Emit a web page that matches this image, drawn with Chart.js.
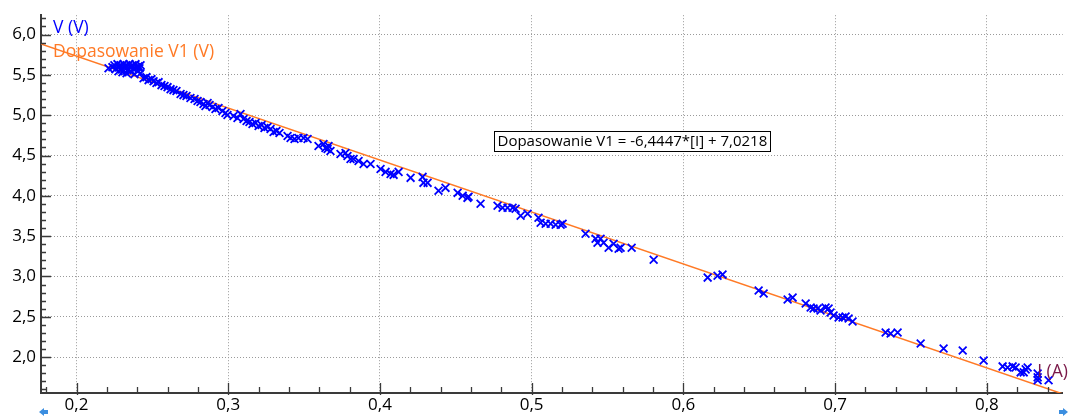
<!DOCTYPE html>
<html>
<head>
<meta charset="utf-8">
<title>V(I) - dopasowanie</title>
<script src="https://cdn.jsdelivr.net/npm/chart.js@4.4.1/dist/chart.umd.min.js"></script>
<style>
    html, body { margin: 0; padding: 0; background: #fff; }
    #wrap { width: 1070px; height: 419px; }
</style>
</head>
<body>
<div id="wrap"><canvas id="fitChart" width="1070" height="419"></canvas></div>
<script>
// measured points: current I (A) and voltage V (V)
const currentA = [
    0.2211, 0.2237, 0.2250, 0.2257, 0.2270, 0.2277, 0.2290, 0.2297, 0.2310, 0.2316,
    0.2330, 0.2336, 0.2349, 0.2356, 0.2369, 0.2376, 0.2389, 0.2396, 0.2409, 0.2422,
    0.2277, 0.2303, 0.2330, 0.2356, 0.2382, 0.2402, 0.2422, 0.2415,
    0.2442, 0.2461, 0.2475, 0.2494, 0.2508, 0.2527, 0.2541, 0.2560, 0.2580, 0.2600,
    0.2620, 0.2639, 0.2659, 0.2686, 0.2705, 0.2725, 0.2751, 0.2778, 0.2798,
    0.2817, 0.2837, 0.2850, 0.2864, 0.2877, 0.2897, 0.2916, 0.2936, 0.2962, 0.2982, 0.2995,
    0.3035, 0.3061, 0.3081, 0.3101, 0.3121, 0.3140, 0.3160, 0.3180, 0.3200, 0.3220,
    0.3239, 0.3259, 0.3279, 0.3299, 0.3318, 0.3338,
    0.3391, 0.3411, 0.3437, 0.3463, 0.3496, 0.3523,
    0.3595, 0.3628, 0.3641, 0.3661, 0.3674, 0.3655,
    0.3740, 0.3773, 0.3786, 0.3806, 0.3826, 0.3859, 0.3892, 0.3938,
    0.4004, 0.4037, 0.4070, 0.4090, 0.4123, 0.4202, 0.4281, 0.4287, 0.4314,
    0.4386, 0.4432, 0.4512, 0.4545, 0.4577, 0.4584, 0.4663,
    0.4775, 0.4808, 0.4841, 0.4874, 0.4894, 0.4927, 0.4973,
    0.5045, 0.5059, 0.5092, 0.5125, 0.5158, 0.5191, 0.5204,
    0.5355, 0.5421, 0.5434, 0.5454, 0.5474, 0.5507, 0.5540, 0.5573, 0.5586, 0.5659,
    0.5804, 0.6160, 0.6225, 0.6258, 0.6496, 0.6529, 0.6687, 0.6720,
    0.6806, 0.6839, 0.6858, 0.6885, 0.6904, 0.6937, 0.6957, 0.6970,
    0.6990, 0.7023, 0.7049, 0.7069, 0.7089, 0.7115,
    0.7333, 0.7366, 0.7412, 0.7564, 0.7715, 0.7841, 0.7979,
    0.8104, 0.8137, 0.8170, 0.8190, 0.8223, 0.8243, 0.8256, 0.8269,
    0.8335, 0.8335, 0.8335, 0.8407
];
const voltageV = [
    5.583, 5.596, 5.620, 5.571, 5.633, 5.596, 5.620, 5.571, 5.633, 5.596,
    5.620, 5.558, 5.633, 5.596, 5.620, 5.571, 5.633, 5.596, 5.608, 5.620,
    5.546, 5.534, 5.521, 5.546, 5.509, 5.546, 5.521, 5.583,
    5.459, 5.472, 5.435, 5.447, 5.422, 5.398, 5.410, 5.373, 5.361, 5.348,
    5.323, 5.311, 5.299, 5.262, 5.249, 5.237, 5.212, 5.200, 5.175,
    5.163, 5.138, 5.113, 5.150, 5.126, 5.101, 5.076, 5.088, 5.051, 5.027, 5.002,
    4.989, 4.965, 5.014, 4.952, 4.928, 4.915, 4.891, 4.903, 4.866, 4.878,
    4.841, 4.853, 4.829, 4.792, 4.804, 4.779,
    4.742, 4.717, 4.705, 4.717, 4.717, 4.705,
    4.618, 4.643, 4.594, 4.618, 4.557, 4.581,
    4.519, 4.532, 4.495, 4.458, 4.458, 4.433, 4.396, 4.396,
    4.334, 4.297, 4.272, 4.260, 4.297, 4.223, 4.235, 4.161, 4.161,
    4.062, 4.099, 4.037, 4.000, 3.975, 3.988, 3.901,
    3.876, 3.852, 3.852, 3.852, 3.839, 3.753, 3.777,
    3.728, 3.666, 3.654, 3.654, 3.641, 3.641, 3.654,
    3.530, 3.468, 3.419, 3.468, 3.419, 3.357, 3.406, 3.344, 3.357, 3.357,
    3.208, 2.986, 3.010, 3.023, 2.825, 2.788, 2.714, 2.738,
    2.664, 2.615, 2.602, 2.602, 2.577, 2.615, 2.602, 2.553,
    2.516, 2.491, 2.491, 2.503, 2.479, 2.441,
    2.305, 2.293, 2.305, 2.169, 2.107, 2.083, 1.959,
    1.885, 1.872, 1.885, 1.872, 1.811, 1.811, 1.848, 1.872,
    1.798, 1.749, 1.712, 1.712
];

// fitted line V1 = -6,4447*[I] + 7,0218, end points at the plot edges
const fitX = [0.1766, 0.8500];
const fitY = [5.884, 1.544];

const xTicks = [0.2, 0.3, 0.4, 0.5, 0.6, 0.7, 0.8];
const yTicks = [2.0, 2.5, 3.0, 3.5, 4.0, 4.5, 5.0, 5.5, 6.0];

const fitText = 'Dopasowanie V1 = -6,4447*[I] + 7,0218';

const BLUE = '#0000ff';
const ORANGE = '#ff7a26';
const AXIS = '#3a3a3a';
const FONT = "'Open Sans', 'Noto Sans', sans-serif";

const comma = v => v.toFixed(1).replace('.', ',');

Chart.defaults.font.family = FONT;

// minor/major ticks, axis captions, fit equation box, scroll arrows
const decorPlugin = {
    id: 'decor',
    afterDraw(chart) {
        const ctx = chart.ctx;
        const area = chart.chartArea;
        const xs = chart.scales.x;
        const ys = chart.scales.y;
        ctx.save();
        ctx.strokeStyle = AXIS;
        ctx.lineWidth = 1.3;
        ctx.beginPath();
        for (let k = 9; k <= 42; k++) {
            const px = Math.round(xs.getPixelForValue(k * 0.02)) + 0.5;
            if (px < area.left + 2 || px > area.right) continue;
            const major = k % 5 === 0;
            ctx.moveTo(px, area.bottom - (major ? 10 : 6));
            ctx.lineTo(px, area.bottom + (major ? 2 : 0));
        }
        for (let k = 16; k <= 62; k++) {
            const py = Math.round(ys.getPixelForValue(k / 10)) + 0.5;
            if (py > area.bottom || py < area.top) continue;
            const major = k % 5 === 0;
            ctx.moveTo(area.left - (major ? 1 : 0), py);
            ctx.lineTo(area.left + (major ? 10 : 5), py);
        }
        ctx.stroke();

        // series captions
        ctx.font = '17.5px ' + FONT;
        ctx.textBaseline = 'middle';
        ctx.textAlign = 'left';
        ctx.fillStyle = BLUE;
        ctx.fillText('V (V)', 53, 28);
        ctx.fillStyle = ORANGE;
        ctx.fillText('Dopasowanie V1 (V)', 53, 52);
        ctx.fillStyle = '#7a1848';
        ctx.font = '17.5px ' + FONT;
        ctx.textAlign = 'right';
        ctx.fillText('I (A)', 1068, 372);

        // equation box
        ctx.font = '15px ' + FONT;
        ctx.textAlign = 'left';
        const bx = Math.round(xs.getPixelForValue(0.4749)) + 0.5;
        const by = Math.round(ys.getPixelForValue(4.804)) + 0.5;
        const bw = Math.round(ctx.measureText(fitText).width) + 6;
        ctx.fillStyle = '#fff';
        ctx.fillRect(bx, by, bw, 20);
        ctx.strokeStyle = '#000';
        ctx.lineWidth = 1;
        ctx.strokeRect(bx, by, bw, 20);
        ctx.fillStyle = '#000';
        ctx.fillText(fitText, bx + 3, by + 10.5);

        // small scroll arrows under the axis
        const arrow = (x, y, dir) => {
            ctx.fillStyle = '#3b8ee0';
            ctx.beginPath();
            ctx.moveTo(x - 5 * dir, y);
            ctx.lineTo(x, y - 4);
            ctx.lineTo(x, y - 2);
            ctx.lineTo(x + 4 * dir, y - 2);
            ctx.lineTo(x + 4 * dir, y + 2);
            ctx.lineTo(x, y + 2);
            ctx.lineTo(x, y + 4);
            ctx.closePath();
            ctx.fill();
        };
        arrow(44, 412, 1);
        arrow(1063, 412, -1);
        ctx.restore();
    }
};

const ctx = document.getElementById('fitChart').getContext('2d');
const fitChart = new Chart(ctx, {
    type: 'scatter',
    data: {
        datasets: [
            {
                label: 'Dopasowanie V1 (V)',
                type: 'line',
                data: fitX.map((x, i) => ({ x: x, y: fitY[i] })),
                borderColor: ORANGE,
                borderWidth: 1.5,
                pointRadius: 0,
                fill: false,
                order: 2
            },
            {
                label: 'V (V)',
                data: currentA.map((x, i) => ({ x: x, y: voltageV[i] })),
                pointStyle: 'crossRot',
                pointRadius: 5.5,
                borderColor: BLUE,
                backgroundColor: BLUE,
                pointBorderWidth: 1.8,
                order: 1
            }
        ]
    },
    options: {
        responsive: false,
        animation: false,
        layout: { padding: { top: 14, right: 7, left: 0, bottom: 0 } },
        plugins: {
            legend: { display: false },
            tooltip: { enabled: false }
        },
        scales: {
            x: {
                type: 'linear',
                min: 0.1766,
                max: 0.85,
                afterBuildTicks: scale => { scale.ticks = xTicks.map(v => ({ value: v })); },
                afterFit: scale => { scale.height = 26; },
                ticks: {
                    callback: v => comma(v),
                    color: '#000',
                    font: { size: 17 },
                    padding: 2,
                    maxRotation: 0,
                    autoSkip: false
                },
                grid: {
                    color: '#9a9a9a',
                    lineWidth: 1,
                    drawTicks: false
                },
                border: { color: AXIS, width: 2, dash: [1, 2] }
            },
            y: {
                type: 'linear',
                min: 1.555,
                max: 6.24,
                afterBuildTicks: scale => { scale.ticks = yTicks.map(v => ({ value: v })); },
                afterFit: scale => { scale.width = 41; },
                ticks: {
                    callback: v => comma(v),
                    color: '#000',
                    font: { size: 17 },
                    padding: 5,
                    autoSkip: false
                },
                grid: {
                    color: '#9a9a9a',
                    lineWidth: 1,
                    drawTicks: false
                },
                border: { color: AXIS, width: 2, dash: [1, 2] }
            }
        }
    },
    plugins: [decorPlugin]
});
</script>
</body>
</html>
